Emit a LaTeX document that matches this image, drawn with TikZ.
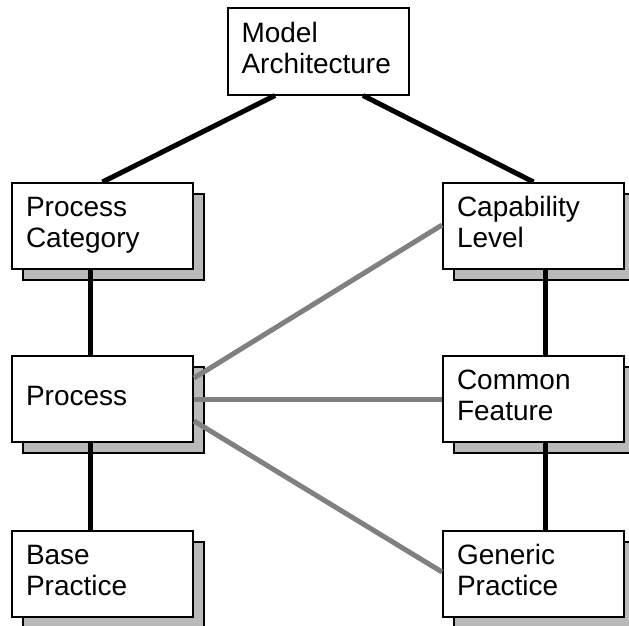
\documentclass[tikz,border=0pt]{standalone}
\usepackage{fontspec}
\setmainfont{Liberation Sans}
\usetikzlibrary{shadows,calc}
\begin{document}
\begin{tikzpicture}[x=1pt,y=-1pt,
  box/.style={draw=black, line width=2pt, fill=white, rectangle,
    minimum width=181pt, minimum height=86pt, inner xsep=14pt, inner ysep=0pt,
    text width=153pt, align=left, font=\fontsize{28}{31}\selectfont},
  sbox/.style={box, general shadow={shadow xshift=11pt, shadow yshift=-11pt,
    fill=gray!55, draw=black, line width=2pt}},
  blk/.style={line width=5pt, black},
  gry/.style={line width=5pt, gray}]
\useasboundingbox (0,0) rectangle (629,626);
\node[box]  (ma) at (318,51.5) {\strut Model\\Architecture\strut};
\node[sbox] (pc) at (102.5,226) {\strut Process\\Category\strut};
\node[sbox] (cl) at (533.5,226) {\strut Capability\\Level\strut};
\node[sbox] (pr) at (102.5,399) {\strut Process\strut};
\node[sbox] (cf) at (533.5,399) {\strut Common\\Feature\strut};
\node[sbox] (bp) at (102.5,573.5) {\strut Base\\Practice\strut};
\node[sbox] (gp) at (533.5,573.5) {\strut Generic\\Practice\strut};
\draw[blk] ($(ma.south)+(-43,0)$) -- (pc.north);
\draw[blk] ($(ma.south)+(45,0)$) -- (cl.north);
\draw[blk] ($(pc.south)+(-12.5,0)$) -- ($(pr.north)+(-12.5,0)$);
\draw[blk] ($(pr.south)+(-12.5,0)$) -- ($(bp.north)+(-12.5,0)$);
\draw[blk] ($(cl.south)+(11.5,0)$) -- ($(cf.north)+(11.5,0)$);
\draw[blk] ($(cf.south)+(11.5,0)$) -- ($(gp.north)+(11.5,0)$);
\draw[gry] ($(pr.east)+(0,-21)$) -- ($(cl.west)+(0,-1)$);
\draw[gry] (pr.east) -- (cf.west);
\draw[gry] ($(pr.east)+(0,22)$) -- ($(gp.west)+(0,-1.5)$);
\end{tikzpicture}
\end{document}
